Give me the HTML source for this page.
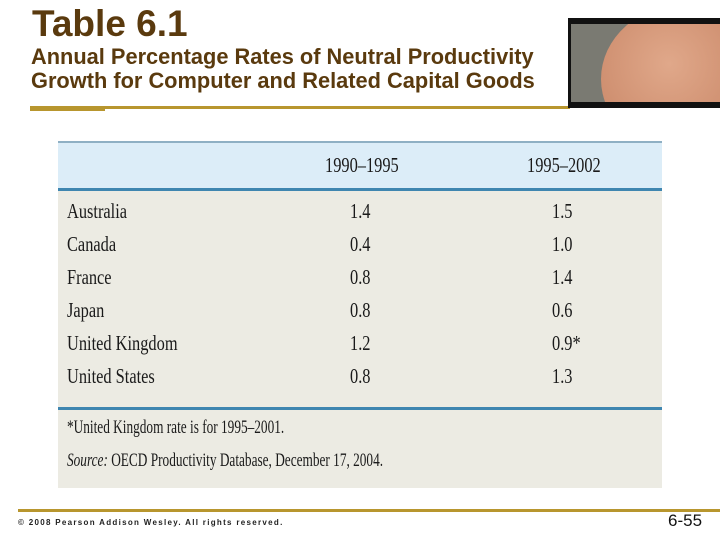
<!DOCTYPE html>
<html><head><meta charset="utf-8"><style>
body{margin:0;width:720px;height:540px;background:#fff;position:relative;overflow:hidden;font-family:"Liberation Sans",sans-serif}
.a{position:absolute;white-space:nowrap}
.br{color:#5a3a0e;font-weight:bold}
.s{font-family:"Liberation Serif",serif;font-size:21px;color:#1a1a1a;transform:scaleX(0.78);transform-origin:left center;line-height:1}
</style></head><body>
<div class="a br" style="left:32px;top:4px;font-size:37px;line-height:40px">Table 6.1</div>
<div class="a br" style="left:31px;top:45px;font-size:21.8px;line-height:24px">Annual Percentage Rates of Neutral Productivity<br>Growth for Computer and Related Capital Goods</div>
<div class="a" style="left:30px;top:106px;width:540px;height:3px;background:#b8962e"></div>
<div class="a" style="left:30px;top:108px;width:75px;height:3px;background:#b8962e"></div>
<div class="a" style="left:568px;top:18px;width:152px;height:90px;background:#111">
 <div style="position:absolute;left:3px;top:6px;width:149px;height:78px;background:#7a7a72;overflow:hidden">
  <div style="position:absolute;left:30px;top:-20px;width:170px;height:150px;border-radius:50%;background:radial-gradient(circle at 40% 40%,#e0a88a,#c07a5a)"></div>
 </div>
</div>
<div class="a" style="left:58px;top:141px;width:604px;height:347px;background:#ecebe3"></div>
<div class="a" style="left:58px;top:141px;width:604px;height:47px;background:#dcedf8;border-top:2px solid #8fb0c4"></div>
<div class="a" style="left:58px;top:188px;width:604px;height:3px;background:#3f86b0"></div>
<div class="a" style="left:58px;top:407px;width:604px;height:3px;background:#3f86b0"></div>
<div id="tbl"></div>
<div class="a s" style="left:67px;top:418px;font-size:19px;transform:scaleX(0.7)">*United Kingdom rate is for 1995–2001.</div>
<div class="a s" style="left:67px;top:451px;font-size:19px;transform:scaleX(0.7)"><i>Source:</i> OECD Productivity Database, December 17, 2004.</div>
<div class="a" style="left:18px;top:509px;width:702px;height:3px;background:#b8962e"></div>
<div class="a" style="left:18px;top:518px;font-size:8px;font-weight:bold;color:#222;letter-spacing:1.3px">© 2008 Pearson Addison Wesley. All rights reserved.</div>
<div class="a" style="left:668px;top:511px;font-size:17px;color:#111">6-55</div>
<script>
const headers=["1990–1995","1995–2002"];
const countries=["Australia","Canada","France","Japan","United Kingdom","United States"];
const rates1990=["1.4","0.4","0.8","0.8","1.2","0.8"];
const rates1995=["1.5","1.0","1.4","0.6","0.9*","1.3"];
const root=document.getElementById('tbl');
function mk(txt,x,y,name){const d=document.createElement('div');d.className='a s';d.style.left=x+'px';d.style.top=y+'px';d.textContent=txt;


root.appendChild(d);}
mk(headers[0],325,155,'header-1990-1995');
mk(headers[1],527,155,'header-1995-2002');
countries.forEach((c,i)=>{const y=201+i*33;
mk(c,67,y,'country-'+i);
mk(rates1990[i],350,y,'rate-1990-'+i);
mk(rates1995[i],552,y,'rate-1995-'+i);});
</script>
</body></html>
